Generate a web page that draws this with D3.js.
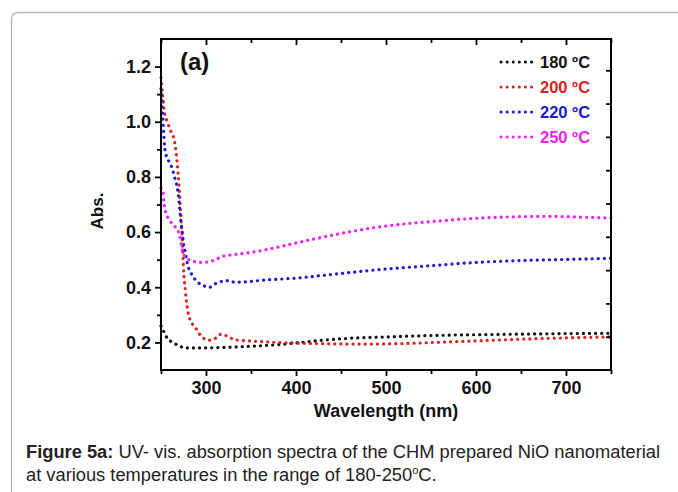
<!DOCTYPE html>
<html lang="en">
<head>
<meta charset="utf-8">
<script src="https://d3js.org/d3.v7.min.js"></script>
<style>
  body { margin: 0; background: #fff; }
  svg { display: block; }
  text { font-family: "Liberation Sans", Arial, sans-serif; }
  .tick text { font-weight: bold; }
</style>
</head>
<body>
<script>
// ---- data (wavelength nm, absorbance) ----
const seriesNames = ["180 ºC", "200 ºC", "220 ºC", "250 ºC"];
const seriesColors = ["#111111", "#dd2020", "#1a1ad0", "#ee22ee"];

const wl180 = [250, 253, 257, 263, 270, 277, 290, 320, 350, 380, 400, 430, 460, 500, 550, 600, 650, 700, 750];
const abs180 = [0.26, 0.24, 0.215, 0.20, 0.188, 0.18, 0.18, 0.182, 0.186, 0.192, 0.198, 0.208, 0.215, 0.220, 0.225, 0.228, 0.23, 0.232, 0.233];

const wl200 = [250, 252, 254, 257, 261, 265, 268, 270, 272, 274, 275, 277, 279, 282, 288, 296, 304, 312, 317, 324, 332, 350, 380, 420, 470, 520, 570, 620, 670, 720, 750];
const abs200 = [1.16, 1.09, 1.03, 1.00, 0.965, 0.93, 0.85, 0.77, 0.66, 0.55, 0.47, 0.39, 0.33, 0.285, 0.255, 0.218, 0.208, 0.218, 0.23, 0.222, 0.21, 0.205, 0.2, 0.196, 0.194, 0.196, 0.202, 0.208, 0.214, 0.218, 0.22];

const wl220 = [250, 251, 252, 253, 254, 256, 259, 262, 265, 268, 270, 272, 274, 275, 277, 279, 285, 290, 297, 304, 310, 317, 325, 332, 345, 365, 400, 450, 500, 550, 600, 650, 700, 750];
const abs220 = [1.12, 1.08, 1.02, 0.96, 0.91, 0.875, 0.855, 0.835, 0.80, 0.762, 0.714, 0.64, 0.59, 0.557, 0.526, 0.49, 0.442, 0.421, 0.406, 0.40, 0.412, 0.421, 0.424, 0.418, 0.42, 0.426, 0.433, 0.45, 0.466, 0.478, 0.49, 0.497, 0.501, 0.505];

const wl250 = [250, 252, 253, 255, 258, 262, 266, 269, 271, 273, 276, 284, 295, 304, 312, 317, 328, 343, 365, 390, 420, 450, 500, 550, 600, 650, 680, 720, 750];
const abs250 = [0.76, 0.75, 0.714, 0.675, 0.65, 0.632, 0.618, 0.605, 0.585, 0.545, 0.515, 0.496, 0.49, 0.493, 0.502, 0.511, 0.517, 0.523, 0.535, 0.553, 0.575, 0.595, 0.622, 0.638, 0.65, 0.656, 0.657, 0.654, 0.651];

const xMajor = [300, 400, 500, 600, 700];
const xMinor = [250, 350, 450, 550, 650, 750];
const yMajor = [0.2, 0.4, 0.6, 0.8, 1.0, 1.2];
const yMinor = [0.3, 0.5, 0.7, 0.9, 1.1];

const W = 678, H = 492;
const plotL = 161, plotT = 39, plotR = 611, plotB = 370;

const svg = d3.select("body").append("svg").attr("width", W).attr("height", H);
svg.append("rect").attr("width", W).attr("height", H).attr("fill", "#fff");

// card outline
svg.append("path")
  .attr("d", `M11.5,${H} L11.5,19 Q11.5,12.5 18,12.5 L${W},12.5`)
  .attr("fill", "none").attr("stroke", "#b4b4b4").attr("stroke-width", 1.3);

const x = d3.scaleLinear().domain([250, 750]).range([plotL, plotR]);
const y = d3.scaleLinear().domain([0.1, 1.3]).range([plotB, plotT]);

// curves
const line = d3.line().x(d => x(d[0])).y(d => y(d[1])).curve(d3.curveMonotoneX);
const series = [[wl180, abs180], [wl200, abs200], [wl220, abs220], [wl250, abs250]];
const g = svg.append("g");
series.forEach((s, i) => {
  const pts = d3.zip(s[0], s[1]);
  g.append("path").datum(pts)
    .attr("d", line)
    .attr("fill", "none")
    .attr("stroke", seriesColors[i])
    .attr("stroke-width", 3.2)
    .attr("stroke-linecap", "round")
    .attr("stroke-dasharray", "0.1 6");
});

// axes
function styleAxis(sel) {
  sel.select(".domain").remove();
  sel.selectAll("line").attr("stroke", "#000").attr("stroke-width", 1.8);
  sel.selectAll("text").attr("fill", "#111").attr("font-size", 18);
}
svg.append("g").attr("transform", `translate(0,${plotB})`)
  .call(d3.axisBottom(x).tickValues(xMajor).tickSize(6).tickPadding(5).tickFormat(d3.format("d")))
  .call(styleAxis);
svg.append("g").attr("transform", `translate(0,${plotB})`)
  .call(d3.axisBottom(x).tickValues(xMinor).tickSize(4).tickFormat(""))
  .call(styleAxis);
svg.append("g").attr("transform", `translate(0,${plotT})`)
  .call(d3.axisBottom(x).tickValues(xMajor).tickSize(6).tickFormat(""))
  .call(styleAxis);
svg.append("g").attr("transform", `translate(0,${plotT})`)
  .call(d3.axisBottom(x).tickValues(xMinor).tickSize(4).tickFormat(""))
  .call(styleAxis);
svg.append("g").attr("transform", `translate(${plotL},0)`)
  .call(d3.axisLeft(y).tickValues(yMajor).tickSize(6).tickPadding(4).tickFormat(d3.format(".1f")))
  .call(styleAxis);
svg.append("g").attr("transform", `translate(${plotL},0)`)
  .call(d3.axisLeft(y).tickValues(yMinor).tickSize(4).tickFormat(""))
  .call(styleAxis);
// right axis of the original figure has its own, uneven tick spacing
const yr = d3.scaleLinear().domain([0, 10]).range([plotB, plotB - 333]);
svg.append("g").attr("transform", `translate(${plotR},0)`)
  .call(d3.axisLeft(yr).tickValues(d3.range(1, 10)).tickSize(5).tickFormat(""))
  .call(styleAxis);

// frame
svg.append("rect").attr("x", plotL).attr("y", plotT)
  .attr("width", plotR - plotL).attr("height", plotB - plotT)
  .attr("fill", "none").attr("stroke", "#000").attr("stroke-width", 2);

// axis titles
svg.append("text").attr("x", (plotL + plotR) / 2).attr("y", 417)
  .attr("text-anchor", "middle").attr("font-weight", "bold").attr("font-size", 18)
  .attr("fill", "#111").text("Wavelength (nm)");
svg.append("text").attr("transform", "translate(103,211) rotate(-90)")
  .attr("text-anchor", "middle").attr("font-weight", "bold").attr("font-size", 17)
  .attr("fill", "#111").text("Abs.");
svg.append("text").attr("x", 180).attr("y", 70)
  .attr("font-weight", "bold").attr("font-size", 24).attr("fill", "#111").text("(a)");

// legend
const legend = svg.append("g");
seriesNames.forEach((name, i) => {
  const ly = 62 + i * 25;
  legend.append("line").attr("x1", 501).attr("x2", 533).attr("y1", ly).attr("y2", ly)
    .attr("stroke", seriesColors[i]).attr("stroke-width", 3)
    .attr("stroke-linecap", "round").attr("stroke-dasharray", "0.1 6");
  legend.append("text").attr("x", 540).attr("y", ly + 6)
    .attr("font-weight", "bold").attr("font-size", 16.5)
    .attr("fill", i === 0 ? "#111" : seriesColors[i]).text(name);
});

// caption
const cap = svg.append("g").attr("font-size", 18.3).attr("fill", "#222");
const l1 = cap.append("text").attr("x", 26).attr("y", 458);
l1.append("tspan").attr("font-weight", "bold").text("Figure 5a:");
l1.append("tspan").text(" UV- vis. absorption spectra of the CHM prepared NiO nanomaterial");
const l2 = cap.append("text").attr("x", 26).attr("y", 481);
l2.append("tspan").text("at various temperatures in the range of 180-250");
l2.append("tspan").attr("font-size", 11).attr("dy", -7).text("o");
l2.append("tspan").attr("dy", 7).text("C.");
</script>
</body>
</html>
